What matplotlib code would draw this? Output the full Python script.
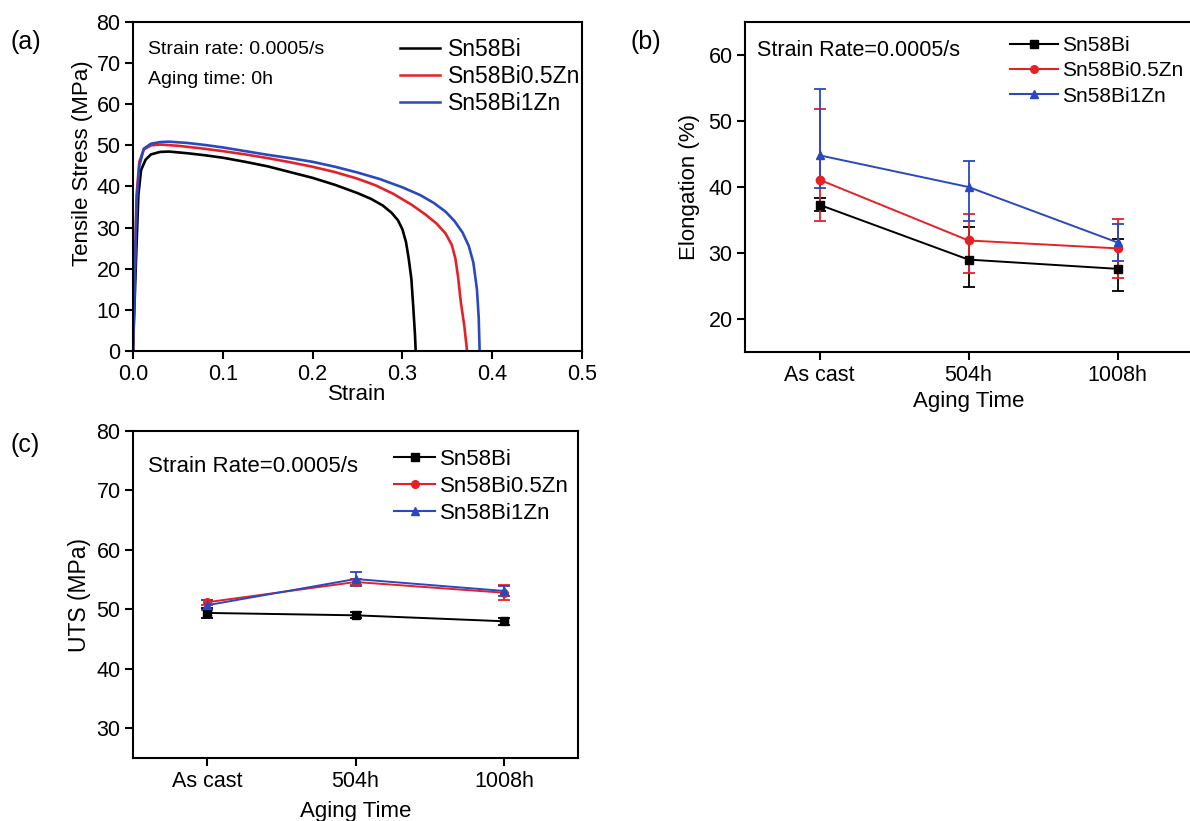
import matplotlib
matplotlib.use("Agg")
import matplotlib.pyplot as plt
from matplotlib.lines import Line2D
import numpy as np

plt.rcParams['font.family'] = ['Liberation Sans', 'DejaVu Sans']

W, H = 1190, 821

# ---------------- data ----------------
series_names = ["Sn58Bi", "Sn58Bi0.5Zn", "Sn58Bi1Zn"]
colors = ["#000000", "#e32227", "#2a48c0"]
markers = ["s", "o", "^"]

# (a) stress-strain curves
strain_bi = [0, 0.003, 0.006, 0.009, 0.014, 0.02, 0.03, 0.04, 0.06, 0.08, 0.1, 0.125, 0.15,
             0.175, 0.2, 0.225, 0.25, 0.265, 0.278, 0.288, 0.295, 0.3, 0.304, 0.307, 0.31,
             0.312, 0.314, 0.3148]
stress_bi = [0, 20, 38, 44, 46.5, 47.8, 48.4, 48.5, 48.1, 47.6, 47.0, 46.0, 44.9,
             43.5, 42.1, 40.4, 38.4, 37.0, 35.4, 33.6, 31.8, 29.6, 26.5, 22.5, 17.5,
             11.0, 4.0, 0]
strain_bi05 = [0, 0.002, 0.004, 0.007, 0.012, 0.02, 0.03, 0.05, 0.075, 0.1, 0.125, 0.15, 0.175,
               0.2, 0.225, 0.25, 0.27, 0.29, 0.31, 0.325, 0.338, 0.348, 0.355, 0.359, 0.362,
               0.365, 0.369, 0.372]
stress_bi05 = [0, 20, 38, 46, 49, 50.0, 50.2, 49.9, 49.3, 48.6, 47.8, 46.9, 45.9,
               44.8, 43.5, 41.9, 40.3, 38.2, 35.6, 33.3, 31.0, 28.6, 25.8, 22.5, 18.0,
               12.0, 6.0, 0]
strain_bi1 = [0, 0.002, 0.004, 0.007, 0.012, 0.02, 0.03, 0.04, 0.06, 0.08, 0.1, 0.125, 0.15, 0.175,
              0.2, 0.225, 0.25, 0.275, 0.3, 0.32, 0.335, 0.348, 0.358, 0.367, 0.374, 0.379,
              0.383, 0.385, 0.386]
stress_bi1 = [0, 18, 36, 45, 49.2, 50.4, 50.8, 50.9, 50.6, 50.1, 49.5, 48.6, 47.7, 46.9,
              46.0, 44.8, 43.4, 41.8, 39.8, 37.9, 36.0, 33.9, 31.6, 28.8, 25.5, 21.5,
              15.0, 8.0, 0]

aging = ["As cast", "504h", "1008h"]

# (b) elongation (%), with lower / upper error
elong = {
    "Sn58Bi":      [37.3, 29.0, 27.6],
    "Sn58Bi0.5Zn": [41.1, 31.9, 30.7],
    "Sn58Bi1Zn":   [44.8, 40.0, 31.6],
}
elong_lo = {
    "Sn58Bi":      [1.0, 4.1, 3.4],
    "Sn58Bi0.5Zn": [6.2, 5.0, 4.5],
    "Sn58Bi1Zn":   [4.9, 5.2, 2.8],
}
elong_hi = {
    "Sn58Bi":      [1.0, 4.9, 4.5],
    "Sn58Bi0.5Zn": [10.7, 4.0, 4.4],
    "Sn58Bi1Zn":   [10.0, 3.9, 2.8],
}

# (c) UTS (MPa)
uts = {
    "Sn58Bi":      [49.4, 49.0, 48.0],
    "Sn58Bi0.5Zn": [51.2, 54.6, 52.8],
    "Sn58Bi1Zn":   [50.7, 55.1, 53.1],
}
uts_err = {
    "Sn58Bi":      [0.8, 0.5, 0.6],
    "Sn58Bi0.5Zn": [0.4, 0.5, 1.3],
    "Sn58Bi1Zn":   [0.8, 1.2, 0.8],
}

# ---------------- helpers ----------------
fig = plt.figure(figsize=(W / 100, H / 100), dpi=100)
fig.patch.set_facecolor("white")


def px_axes(l, t, r, b):
    return fig.add_axes([l / W, 1 - b / H, (r - l) / W, (b - t) / H])


def fx(x):
    return x / W


def fy(y):
    return 1 - y / H


TICK_FS = 15.5


def style(ax):
    for s in ax.spines.values():
        s.set_linewidth(1.5)
    ax.tick_params(direction="out", length=6, width=1.5, labelsize=TICK_FS,
                   top=False, right=False, pad=3)


def handles(with_markers, ms):
    hs = []
    for n, c, m in zip(series_names, colors, markers):
        if with_markers:
            hs.append(Line2D([], [], color=c, lw=1.5, marker=m, markersize=ms))
        else:
            hs.append(Line2D([], [], color=c, lw=1.8))
    return hs


# ---------------- (a) ----------------
axa = px_axes(133, 22, 582, 351)
style(axa)
curves = [(strain_bi, stress_bi), (strain_bi05, stress_bi05), (strain_bi1, stress_bi1)]
for (sx, sy), c, n in zip(curves, colors, series_names):
    axa.plot(sx, sy, color=c, lw=1.9, label=n, solid_joinstyle="round")
axa.set_xlim(0, 0.5)
axa.set_ylim(0, 80)
axa.set_xticks([0, 0.1, 0.2, 0.3, 0.4, 0.5])
axa.set_xticklabels(["0.0", "0.1", "0.2", "0.3", "0.4", "0.5"])
axa.set_yticks(range(0, 81, 10))
axa.set_xlabel("Strain", fontsize=16, labelpad=0)
axa.set_ylabel("Tensile Stress (MPa)", fontsize=16, labelpad=2)
axa.yaxis.set_label_coords(-0.088, 0.57)
fig.text(fx(148), fy(50), "Strain rate: 0.0005/s", fontsize=14, va="center", ha="left")
fig.text(fx(148), fy(80), "Aging time: 0h", fontsize=14, va="center", ha="left")
axa.legend(handles(False, 0), series_names, loc="upper left",
           bbox_to_anchor=(fx(400), fy(38)), bbox_transform=fig.transFigure,
           frameon=False, fontsize=16.5, handlelength=1.75, handletextpad=0.35,
           labelspacing=0.18, borderpad=0, borderaxespad=0)
fig.text(fx(10), fy(42), "(a)", fontsize=18, va="center", ha="left")

# ---------------- (b) ----------------
axb = px_axes(745, 22, 1192, 352)
style(axb)
xpos = np.arange(len(aging))
for n, c, m in zip(series_names, colors, markers):
    axb.errorbar(xpos, elong[n], yerr=[elong_lo[n], elong_hi[n]], color=c, marker=m,
                 markersize=6, lw=1.4, elinewidth=1.3, capsize=4.5, capthick=1.3)
axb.set_xlim(-0.5, 2.5)
axb.set_ylim(15, 65)
axb.set_yticks([20, 30, 40, 50, 60])
axb.set_xticks(xpos)
axb.set_xticklabels(aging)
axb.set_xlabel("Aging Time", fontsize=16, labelpad=4)
axb.set_ylabel("Elongation (%)", fontsize=16, labelpad=6)
fig.text(fx(757), fy(50), "Strain Rate=0.0005/s", fontsize=15.5, va="center", ha="left")
axb.legend(handles(True, 5.5), series_names, loc="upper left",
           bbox_to_anchor=(fx(1010), fy(36)), bbox_transform=fig.transFigure,
           frameon=False, fontsize=15, handlelength=2.3, handletextpad=0.2,
           labelspacing=0.3, borderpad=0, borderaxespad=0)
fig.text(fx(630), fy(42), "(b)", fontsize=18, va="center", ha="left")

# ---------------- (c) ----------------
axc = px_axes(133, 431, 578, 758)
style(axc)
for n, c, m in zip(series_names, colors, markers):
    axc.errorbar(xpos, uts[n], yerr=uts_err[n], color=c, marker=m,
                 markersize=5.5, lw=1.4, elinewidth=1.3, capsize=4, capthick=1.3)
axc.set_xlim(-0.5, 2.5)
axc.set_ylim(25, 80)
axc.set_yticks([30, 40, 50, 60, 70, 80])
axc.set_xticks(xpos)
axc.set_xticklabels(aging)
axc.set_xlabel("Aging Time", fontsize=16, labelpad=7)
axc.set_ylabel("UTS (MPa)", fontsize=16.5, labelpad=4)
fig.text(fx(148), fy(466), "Strain Rate=0.0005/s", fontsize=16, va="center", ha="left")
axc.legend(handles(True, 5.5), series_names, loc="upper left",
           bbox_to_anchor=(fx(394), fy(449)), bbox_transform=fig.transFigure,
           frameon=False, fontsize=16, handlelength=1.85, handletextpad=0.23,
           labelspacing=0.27, borderpad=0, borderaxespad=0)
fig.text(fx(10), fy(445), "(c)", fontsize=18, va="center", ha="left")

fig.savefig("out.png", dpi=100, facecolor="white")
